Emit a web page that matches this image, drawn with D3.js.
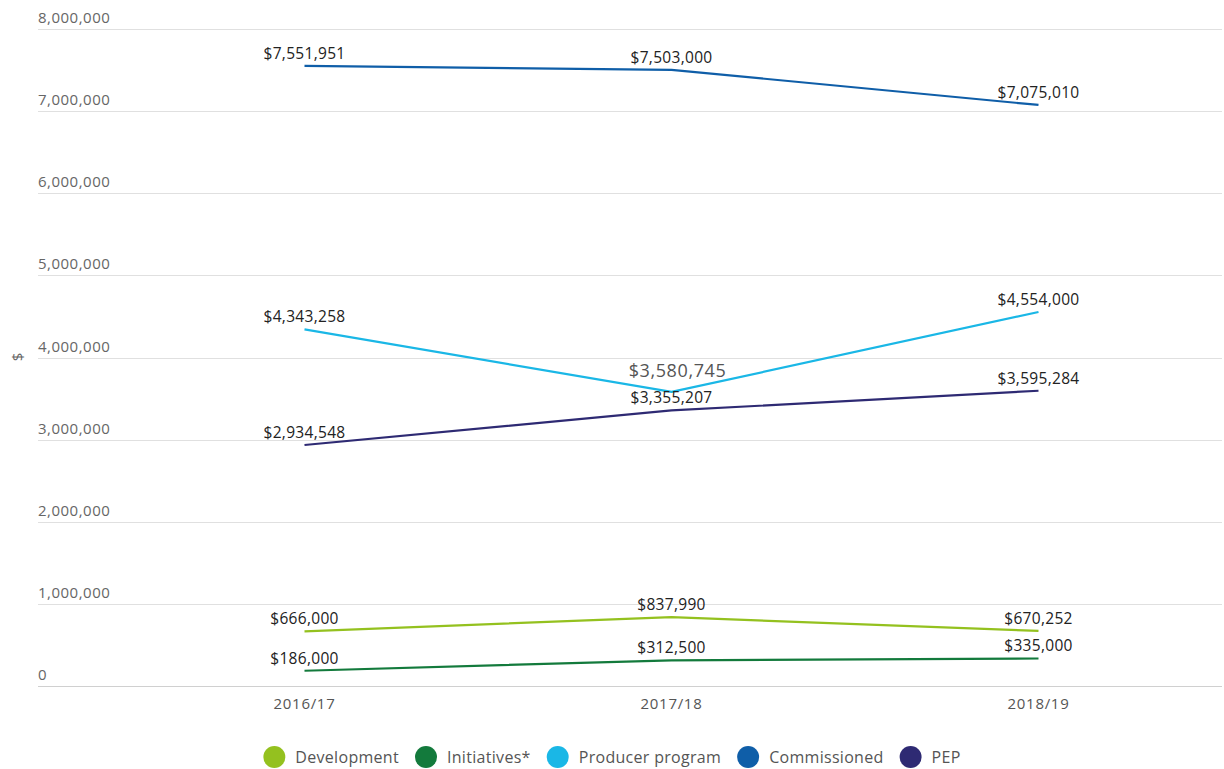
<!DOCTYPE html>
<html>
<head>
<meta charset="utf-8">
<script src="https://cdn.jsdelivr.net/npm/d3@7"></script>
<style>
  html, body { margin: 0; padding: 0; background: #fff; }
  svg { display: block; font-family: "Open Sans", "Noto Sans", sans-serif; }
</style>
</head>
<body>
<svg id="chart" width="1224" height="769"></svg>
<script>
const categories = ["2016/17", "2017/18", "2018/19"];
const seriesNames = ["Development", "Initiatives*", "Producer program", "Commissioned", "PEP"];
const seriesColors = ["#94c11f", "#137a3c", "#1ab7e6", "#0f5ea8", "#2e2a73"];
const development = [666000, 837990, 670252];
const initiatives = [186000, 312500, 335000];
const producerProgram = [4343258, 3580745, 4554000];
const commissioned = [7551951, 7503000, 7075010];
const pep = [2934548, 3355207, 3595284];
const yTicks = [0, 1000000, 2000000, 3000000, 4000000, 5000000, 6000000, 7000000, 8000000];

const seriesValues = [development, initiatives, producerProgram, commissioned, pep];

const svg = d3.select("#chart");
const W = 1224;
const plotLeft = 121, plotRight = 1222, plotTop = 29, plotBottom = 686;
const gridLeft = 38;

const x = d3.scalePoint().domain(categories).range([plotLeft, plotRight]).padding(0.5);
const y = d3.scaleLinear().domain([0, 8000000]).range([plotBottom, plotTop]);

const fmtTick = d3.format(",");
const fmtVal = v => "$" + d3.format(",")(v);

// grid + y labels
const yAxis = svg.append("g").attr("class", "y-axis");
yAxis.selectAll("line").data(yTicks).join("line")
  .attr("x1", gridLeft).attr("x2", plotRight)
  .attr("y1", d => Math.round(y(d)) + 0.5).attr("y2", d => Math.round(y(d)) + 0.5)
  .attr("stroke", d => d === 0 ? "#d0d0d0" : "#e0e0e0").attr("stroke-width", 1);
yAxis.selectAll("text").data(yTicks).join("text")
  .attr("x", gridLeft).attr("y", d => y(d) - 6)
  .attr("fill", "#666").attr("font-size", 15).attr("letter-spacing", 0.5)
  .text(d => fmtTick(d));

// y title
svg.append("text")
  .attr("transform", "translate(23,357) rotate(-90)")
  .attr("text-anchor", "middle").attr("fill", "#666").attr("font-size", 15)
  .text("$");

// x labels
svg.append("g").selectAll("text").data(categories).join("text")
  .attr("x", d => x(d)).attr("y", 709)
  .attr("text-anchor", "middle").attr("fill", "#555").attr("font-size", 15).attr("letter-spacing", 0.7)
  .text(d => d);

// lines
const line = d3.line().x((d, i) => x(categories[i])).y(d => y(d));
svg.append("g").selectAll("path").data(seriesValues).join("path")
  .attr("d", d => line(d))
  .attr("fill", "none")
  .attr("stroke", (d, i) => seriesColors[i])
  .attr("stroke-width", 2.2)
  .attr("stroke-linejoin", "round");

// value labels
const labels = [];
seriesValues.forEach((vals, si) => {
  vals.forEach((v, ci) => labels.push({si, ci, v}));
});
const isHi = d => d.si === 2 && d.ci === 1;
svg.append("g").selectAll("text").data(labels).join("text")
  .attr("x", d => x(categories[d.ci]) + (isHi(d) ? 6 : 0))
  .attr("y", d => y(d.v) - (isHi(d) ? 15 : 7))
  .attr("text-anchor", "middle")
  .attr("fill", d => isHi(d) ? "#555" : "#222")
  .attr("font-size", d => isHi(d) ? 18 : 15.5)
  .attr("letter-spacing", d => isHi(d) ? 0.6 : 0.3)
  .text(d => fmtVal(d.v));

// legend
const legend = svg.append("g");
const items = legend.selectAll("g").data(seriesNames).join("g");
items.append("circle").attr("r", 11).attr("cy", 0).attr("cx", 0)
  .attr("fill", (d, i) => seriesColors[i]);
items.append("text").attr("x", 21).attr("y", 5.5)
  .attr("fill", "#555").attr("font-size", 16).attr("letter-spacing", 0.3)
  .text(d => d);
let cx = 0;
const positions = [];
const gap = 27;
items.each(function(d, i) {
  const w = d3.select(this).select("text").node().getComputedTextLength();
  positions.push(cx);
  cx += 21 + w + gap;
});
const totalW = cx - gap + 11;
const startX = W / 2 - totalW / 2 + 11;
items.attr("transform", (d, i) => `translate(${startX + positions[i]},757)`);
</script>
</body>
</html>
